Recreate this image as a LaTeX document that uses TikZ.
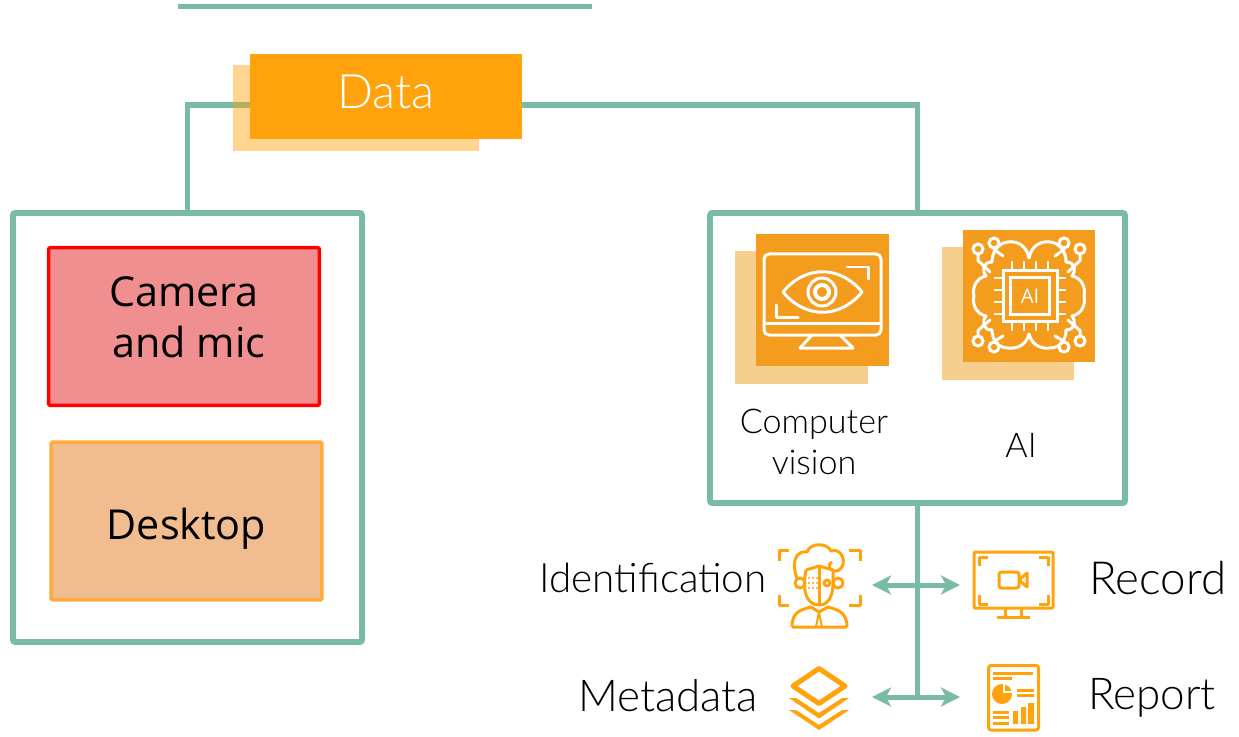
\documentclass[tikz,border=0pt]{standalone}
\usepackage{fontspec}
\setmainfont{Open Sans}
\newfontfamily\lightfont{Lato}[UprightFont=* Light]
\usetikzlibrary{arrows.meta,calc,positioning,backgrounds}
\definecolor{linkgreen}{HTML}{79BCA3}
\definecolor{dataorange}{HTML}{FFA20C}
\definecolor{iconorange}{HTML}{F39C1E}
\definecolor{shadoworange}{HTML}{F6CE8E}
\definecolor{cameraface}{HTML}{F08F8F}
\definecolor{desktopface}{HTML}{F0BC90}
\definecolor{desktopedge}{HTML}{FFAB40}

\begin{document}
\begin{tikzpicture}[
    x=0.02cm, y=-0.02cm,
    panel/.style={draw=linkgreen, line width=0.115cm, rounded corners=0.04cm, fill=white, minimum width=#1},
    link/.style={draw=linkgreen, line width=0.11cm},
    twoway/.style={{Stealth[length=0.38cm,width=0.38cm,inset=0.1cm]}-{Stealth[length=0.38cm,width=0.38cm,inset=0.1cm]}, draw=linkgreen, line width=0.1cm},
    device/.style={line width=0.07cm, minimum width=5.42cm, minimum height=3.16cm, rounded corners=0.03cm, align=center, font=\fontsize{23.5}{29.5}\selectfont},
    square/.style={minimum size=2.65cm, inner sep=0pt, outer sep=0pt},
    backing/.style={fill=shadoworange},
    caption/.style={align=center, font=\lightfont\fontsize{19.4}{23}\selectfont},
    service/.style={font=\lightfont\fontsize{25}{28}\selectfont},
    holder/.style={inner sep=0pt, outer sep=0pt, minimum width=#1},
    whiteline/.style={draw=white, line width=0.06cm, line cap=round, line join=round},
    orangeline/.style={draw=dataorange, line width=0.06cm, line join=round}
]
\useasboundingbox (0,0) rectangle (1239,736);

% Top rule
\node[inner sep=0pt, minimum width=8.28cm, minimum height=0.1cm, fill=linkgreen] (toprule) at (385,7) {};

% Panels
\node[panel=6.98cm, minimum height=8.58cm] (sources) at (187.5,427.5) {};
\node[panel=8.3cm, minimum height=5.8cm] (analysis) at (917.5,358) {};

% Data box and its links
\fill[dataorange, opacity=0.45] (233,65) rectangle (479,151);
\node[inner sep=0pt, outer sep=0pt, minimum width=5.44cm, minimum height=1.7cm, fill=dataorange, font=\lightfont\fontsize{27}{32}\selectfont, text=white] (data) at (386,96.5) {\raisebox{0.2cm}{Data}};
\begin{scope}[on background layer]
\draw[link] (sources.north) |- ([yshift=-0.17cm]data.west);
\draw[link] (analysis.north) |- ([yshift=-0.17cm]data.east);
\end{scope}

% Devices
\node[device, draw=red, fill=cameraface] (camera) at (184,326.5) {Camera\hspace{0.24cm}\\\hspace*{0.2cm}and mic\rule[-0.38cm]{0pt}{0pt}};
\node[device, draw=desktopedge, fill=desktopface] (desktop) at (186.5,521) {\rule{0pt}{27pt}Desktop};

% Computer vision tile
\fill[backing] (735,251) rectangle (868,384);
\node[square, fill=iconorange] (visiontile) at (822.5,300) {};
\draw[whiteline, rounded corners=0.1cm] (764,254) rectangle (881,335);
\draw[whiteline] (764,323) -- (881,323);
\draw[whiteline] (812,335) -- (800,348) -- (853,348) -- (840,335);
\draw[whiteline] (783,292) .. controls (805,265) and (840,265) .. (862,292) .. controls (840,319) and (805,319) .. cycle;
\draw[whiteline] (822,292) circle [radius=14];
\draw[whiteline, line width=0.08cm] (822,292) circle [radius=7];
\draw[whiteline] (847,267) -- (868,267) -- (868,279);
\draw[whiteline] (776,305) -- (776,317) -- (798,317);

% AI tile
\fill[backing] (942,247) rectangle (1074,380);
\node[square, fill=iconorange] (aitile) at (1029,296) {};
\foreach \px/\py/\qx/\qy in {978/249/990/272, 994/243/1003/256, 1064/243/1055/256, 1080/249/1068/272, 978/341/990/320, 994/347/1003/336, 1064/347/1055/336, 1080/341/1068/320} {
    \draw[whiteline] (\px,\py) -- (\px,{(\py+\qy)/2}) -- (\qx,\qy);
    \filldraw[fill=iconorange, draw=white, line width=0.06cm] (\px,\py) circle [radius=5];
}
\draw[whiteline] (1029,258) .. controls (1032,244) and (1042,241) .. (1050,242) .. controls (1060,243) and (1066,252) .. (1066,262)
    .. controls (1076,262) and (1076,272) .. (1072,276) .. controls (1082,278) and (1086,288) .. (1084,296)
    .. controls (1086,304) and (1082,314) .. (1072,316) .. controls (1076,320) and (1076,330) .. (1066,330)
    .. controls (1066,340) and (1060,348) .. (1050,348) .. controls (1042,349) and (1032,346) .. (1029,334)
    .. controls (1026,346) and (1016,349) .. (1008,348) .. controls (998,348) and (992,340) .. (992,330)
    .. controls (982,330) and (982,320) .. (986,316) .. controls (976,314) and (972,304) .. (974,296)
    .. controls (972,288) and (976,278) .. (986,276) .. controls (982,272) and (982,262) .. (992,262)
    .. controls (992,252) and (998,243) .. (1008,242) .. controls (1016,241) and (1026,244) .. cycle;
\foreach \k in {-18,-6,6,18} {
    \draw[whiteline, line width=0.05cm] (1030+\k,262) -- (1030+\k,270);
    \draw[whiteline, line width=0.05cm] (1030+\k,322) -- (1030+\k,330);
    \draw[whiteline, line width=0.05cm] (995,296+\k) -- (1003,296+\k);
    \draw[whiteline, line width=0.05cm] (1057,296+\k) -- (1065,296+\k);
}
\node[inner sep=0pt, outer sep=0pt, minimum width=1.08cm, minimum height=1.04cm, fill=iconorange, draw=white, line width=0.06cm] (chip) at (1030,296) {};
\node[inner sep=0pt, minimum width=0.78cm, minimum height=0.74cm, draw=white, line width=0.06cm, font=\fontsize{11.5}{12}\selectfont, text=white] (chipcore) at (1030,296) {AI};

% Tile captions
\node[caption] (visioncap) at (814,442) {Computer\\vision};
\node[caption] (aicap) at (1021,445) {AI};

% Output holders and their links
\node[holder=1.62cm, minimum height=1.54cm] (person) at (819.5,587) {};
\node[holder=1.6cm, minimum height=1.32cm] (monitor) at (1013,585) {};
\node[holder=1.2cm, minimum height=1.3cm] (layers) at (819,697) {};
\node[holder=1.02cm, minimum height=1.3cm] (report) at (1013.5,697) {};
\coordinate (trunkend) at (analysis.south |- report);
\draw[link] (analysis.south) -- (trunkend);
\draw[twoway, shorten <=0.24cm, shorten >=0.26cm] (person.east |- monitor) -- (monitor.west);
\draw[twoway, shorten <=0.46cm, shorten >=0.56cm] (layers.east) -- (report.west);

% Output labels
\node[service, font=\lightfont\fontsize{23}{28}\selectfont] (idtext) at (653,578) {Identification};
\node[service, font=\lightfont\fontsize{26}{28}\selectfont] (rectext) at (1158,578) {Record};
\node[service] (metatext) at (668,696) {Metadata};
\node[service] (reptext) at (1152,698) {Report};

% Person icon
\draw[orangeline] (779,561) -- (779,550) -- (789,550);
\draw[orangeline] (849,550) -- (860,550) -- (860,561);
\draw[orangeline] (779,595) -- (779,605) -- (789,605);
\draw[orangeline] (849,605) -- (860,605) -- (860,595);
\draw[orangeline] (806,570) .. controls (802,590) and (806,605) .. (819,605) .. controls (832,605) and (834,590) .. (833,570);
\draw[orangeline] (806,570) -- (819,566) -- (833,570);
\draw[orangeline] (819,566) -- (819,605);
\draw[orangeline] (800,583) circle [radius=5];
\draw[orangeline] (838,583) circle [radius=5];
\draw[orangeline] (827,583) circle [radius=3];
\draw[orangeline] (797,578) .. controls (790,560) and (798,550) .. (807,552) .. controls (810,542) and (828,543) .. (831,551) .. controls (842,547) and (848,564) .. (839,570) .. controls (832,574) and (825,566) .. (832,562);
\foreach \k in {0,1,2} { \foreach \m in {0,1,2} { \fill[dataorange] (809+\k*4,578+\m*5) circle [radius=1.2]; } }
\draw[orangeline] (792,627) -- (847,627) (792,627) .. controls (792,612) and (800,610) .. (811,607) -- (819,612) -- (828,607) .. controls (838,610) and (847,612) .. (847,627);
\draw[orangeline, line width=0.04cm] (819,612) -- (816,627) (819,612) -- (822,627);

% Monitor icon
\draw[orangeline, rounded corners=0.02cm] (974,552) rectangle (1053,608);
\draw[orangeline] (979,566) -- (979,557) -- (988,557);
\draw[orangeline] (1039,557) -- (1048,557) -- (1048,566);
\draw[orangeline] (979,595) -- (979,604) -- (988,604);
\draw[orangeline] (1039,604) -- (1048,604) -- (1048,595);
\draw[orangeline, rounded corners=0.05cm] (999,572) rectangle (1019,588);
\draw[orangeline] (1019,580) -- (1027,573) -- (1027,587) -- cycle;
\draw[orangeline] (1005,608) -- (1005,617) (1021,608) -- (1021,617) (997,617) -- (1030,617);

% Layers icon
\draw[dataorange, line width=0.1cm, line join=round] (793,686) -- (819,668.5) -- (845,686) -- (819,703.5) -- cycle;
\fill[dataorange] (789,698) -- (796,698) -- (819,713) -- (842,698) -- (849,698) -- (819,718.5) -- cycle;
\fill[dataorange] (789,710) -- (796,710) -- (819,725) -- (842,710) -- (849,710) -- (819,730) -- cycle;

% Report icon
\draw[orangeline, rounded corners=0.05cm] (988.5,665.5) rectangle (1038.5,730);
\draw[orangeline] (993,673) -- (1033,673) (993,678.5) -- (1012,678.5);
\fill[dataorange] (1002,694) circle [radius=10];
\draw[white, line width=0.03cm] (1004,683) -- (1004,692) -- (1013,692);
\draw[orangeline] (1017,690) -- (1034,690) (1017,695) -- (1034,695);
\draw[orangeline] (993,712) -- (1009,712) (993,717.5) -- (1009,717.5) (993,723) -- (1009,723);
\fill[dataorange] (1013,711) rectangle (1018,724) (1021,707) rectangle (1026,724) (1028,703) rectangle (1034,724);
\end{tikzpicture}
\end{document}
